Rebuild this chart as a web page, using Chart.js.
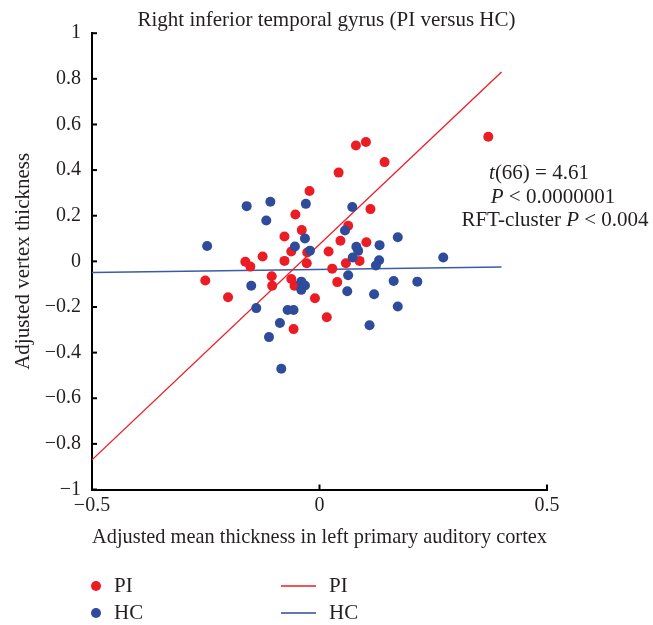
<!DOCTYPE html>
<html>
<head>
<meta charset="utf-8">
<script src="https://cdn.jsdelivr.net/npm/chart.js@4/dist/chart.umd.min.js"></script>
<style>
  html, body { margin: 0; padding: 0; background: #fff; }
  #wrap { width: 653px; height: 625px; position: relative; }
</style>
</head>
<body>
<div id="wrap"><canvas id="chart"></canvas></div>
<script>
// PI group (red)
const piX = [0.371, 0.080, 0.102, 0.143, 0.042, -0.022, 0.112, -0.053, 0.063, -0.039,
  -0.077, 0.046, 0.103, -0.062, -0.027, 0.020, -0.125, -0.163, -0.152, -0.077,
  -0.028, 0.028, 0.058, 0.088, -0.251, -0.105, -0.104, -0.062, -0.055, 0.039,
  -0.201, -0.010, 0.016, -0.057];
const piY = [0.546, 0.508, 0.523, 0.435, 0.389, 0.308, 0.229, 0.205, 0.156, 0.137,
  0.109, 0.090, 0.084, 0.043, 0.039, 0.043, 0.021, -0.002, -0.023, 0.002,
  -0.008, -0.032, -0.008, 0.002, -0.084, -0.065, -0.107, -0.077, -0.107, -0.091,
  -0.157, -0.162, -0.245, -0.297];

// HC group (blue)
const hcX = [-0.160, -0.108, -0.117, -0.030, -0.247, -0.032, -0.054, -0.021, 0.072, 0.056,
  0.172, 0.132, 0.081, 0.085, 0.073, 0.272, 0.131, 0.124, -0.150, -0.139,
  -0.070, -0.057, -0.087, -0.111, -0.084, -0.040, -0.032, -0.040, 0.063, 0.061,
  0.120, 0.163, 0.215, 0.172, 0.110];
const hcY = [0.242, 0.261, 0.179, 0.252, 0.067, 0.100, 0.065, 0.047, 0.238, 0.135,
  0.106, 0.071, 0.064, 0.046, 0.017, 0.017, 0.005, -0.018, -0.107, -0.205,
  -0.213, -0.213, -0.270, -0.332, -0.471, -0.089, -0.106, -0.125, -0.061, -0.131,
  -0.144, -0.086, -0.089, -0.198, -0.280];

// fitted lines
const fitX = [-0.5, 0.4];
const piFitY = [-0.87, 0.83];
const hcFitY = [-0.049, -0.025];

const xTicks = [-0.5, 0, 0.5];
const yTicks = [-1, -0.8, -0.6, -0.4, -0.2, 0, 0.2, 0.4, 0.6, 0.8, 1];

const RED = "#ec1c24";
const BLUE = "#2e4b9c";
const SERIF = "'Liberation Serif', 'DejaVu Serif', serif";

const pts = (xs, ys) => xs.map((x, i) => ({ x: x, y: ys[i] }));
const fmt = (v) => {
  const r = Math.round(v * 10) / 10;
  return r < 0 ? "\u2212" + String(Math.abs(r)) : String(r);
};

// ticks drawn on the inner side of the axes
const innerTicks = {
  id: "innerTicks",
  afterDraw(chart) {
    const ctx = chart.ctx;
    const a = chart.chartArea;
    ctx.save();
    ctx.strokeStyle = "#000";
    ctx.lineWidth = 2;
    chart.scales.x.ticks.forEach((t) => {
      const px = chart.scales.x.getPixelForValue(t.value);
      ctx.beginPath();
      ctx.moveTo(px, a.bottom);
      ctx.lineTo(px, a.bottom - 5);
      ctx.stroke();
    });
    chart.scales.y.ticks.forEach((t) => {
      const py = chart.scales.y.getPixelForValue(t.value);
      ctx.beginPath();
      ctx.moveTo(a.left, py);
      ctx.lineTo(a.left + 5, py);
      ctx.stroke();
    });
    ctx.restore();
  },
};

// mixed italic / roman text, centred on cx
function drawRich(ctx, parts, cx, cy, size) {
  const fonts = parts.map((p) => (p.i ? "italic " : "") + size + "px " + SERIF);
  let w = 0;
  parts.forEach((p, k) => { ctx.font = fonts[k]; w += ctx.measureText(p.t).width; });
  let x = cx - w / 2;
  parts.forEach((p, k) => {
    ctx.font = fonts[k];
    ctx.fillText(p.t, x, cy);
    x += ctx.measureText(p.t).width;
  });
}

const extras = {
  id: "extras",
  afterDraw(chart) {
    const ctx = chart.ctx;
    ctx.save();
    ctx.fillStyle = "#231f20";
    ctx.textBaseline = "middle";
    ctx.textAlign = "left";
    drawRich(ctx, [{ t: "t", i: true }, { t: "(66) = 4.61" }], 539, 173, 21);
    drawRich(ctx, [{ t: "P", i: true }, { t: " < 0.0000001" }], 553, 197, 21);
    drawRich(ctx, [{ t: "RFT-cluster " }, { t: "P", i: true }, { t: " < 0.004" }], 555, 220, 21);

    // legend
    const rows = [
      { label: "PI", color: RED, y: 586 },
      { label: "HC", color: BLUE, y: 613 },
    ];
    ctx.font = "21px " + SERIF;
    rows.forEach((r) => {
      ctx.fillStyle = r.color;
      ctx.beginPath();
      ctx.arc(96, r.y, 5, 0, Math.PI * 2);
      ctx.fill();
      ctx.strokeStyle = r.color;
      ctx.lineWidth = 1.5;
      ctx.beginPath();
      ctx.moveTo(281, r.y);
      ctx.lineTo(316, r.y);
      ctx.stroke();
      ctx.fillStyle = "#231f20";
      ctx.fillText(r.label, 114, r.y);
      ctx.fillText(r.label, 329, r.y);
    });
    ctx.restore();
  },
};

Chart.defaults.font.family = SERIF;
Chart.defaults.color = "#231f20";

new Chart(document.getElementById("chart"), {
  type: "scatter",
  data: {
    datasets: [
      {
        label: "HC",
        data: pts(hcX, hcY),
        backgroundColor: BLUE,
        borderWidth: 0,
        pointRadius: 5,
        order: 1,
      },
      {
        label: "PI",
        data: pts(piX, piY),
        backgroundColor: RED,
        borderWidth: 0,
        pointRadius: 5,
        order: 2,
      },
      {
        label: "PI fit",
        type: "line",
        data: pts(fitX, piFitY),
        borderColor: RED,
        borderWidth: 1.3,
        pointRadius: 0,
        order: 3,
      },
      {
        label: "HC fit",
        type: "line",
        data: pts(fitX, hcFitY),
        borderColor: "#3b5aa8",
        borderWidth: 1.5,
        pointRadius: 0,
        order: 4,
      },
    ],
  },
  options: {
    responsive: true,
    maintainAspectRatio: false,
    animation: false,
    layout: { padding: { left: 0, right: 0, top: 0, bottom: 75 } },
    plugins: {
      legend: { display: false },
      tooltip: { enabled: false },
      title: {
        display: true,
        text: "Right inferior temporal gyrus (PI versus HC)",
        font: { size: 21, weight: "normal" },
        color: "#231f20",
        padding: { top: 8, bottom: 0 },
      },
    },
    scales: {
      x: {
        type: "linear",
        min: -0.5,
        max: 0.5,
        afterBuildTicks: (s) => { s.ticks = xTicks.map((v) => ({ value: v })); },
        afterFit: (s) => { s.height = 60.5; },
        grid: { display: true, drawOnChartArea: false, drawTicks: false },
        border: { color: "#000", width: 2 },
        ticks: { callback: (v) => fmt(v), font: { size: 20 }, padding: 4, maxRotation: 0 },
        title: {
          display: true,
          text: "Adjusted mean thickness in left primary auditory cortex",
          font: { size: 21 },
          padding: { top: 0, bottom: 0 },
        },
      },
      y: {
        type: "linear",
        min: -1,
        max: 1,
        afterBuildTicks: (s) => { s.ticks = yTicks.map((v) => ({ value: v })); },
        afterFit: (s) => { s.width = 92; },
        grid: { display: true, drawOnChartArea: false, drawTicks: false },
        border: { color: "#000", width: 2 },
        ticks: { callback: (v) => fmt(v), font: { size: 20 }, padding: 11 },
        title: {
          display: true,
          text: "Adjusted vertex thickness",
          font: { size: 21 },
          padding: { top: 11, bottom: 0 },
        },
      },
      // empty right-hand gutter, keeps the plot to the left like the reference
      gutter: {
        type: "linear",
        position: "right",
        display: true,
        afterFit: (s) => { s.width = 106; },
        grid: { display: false, drawTicks: false },
        border: { display: false },
        ticks: { display: false },
      },
    },
  },
  plugins: [innerTicks, extras],
});
</script>
</body>
</html>
